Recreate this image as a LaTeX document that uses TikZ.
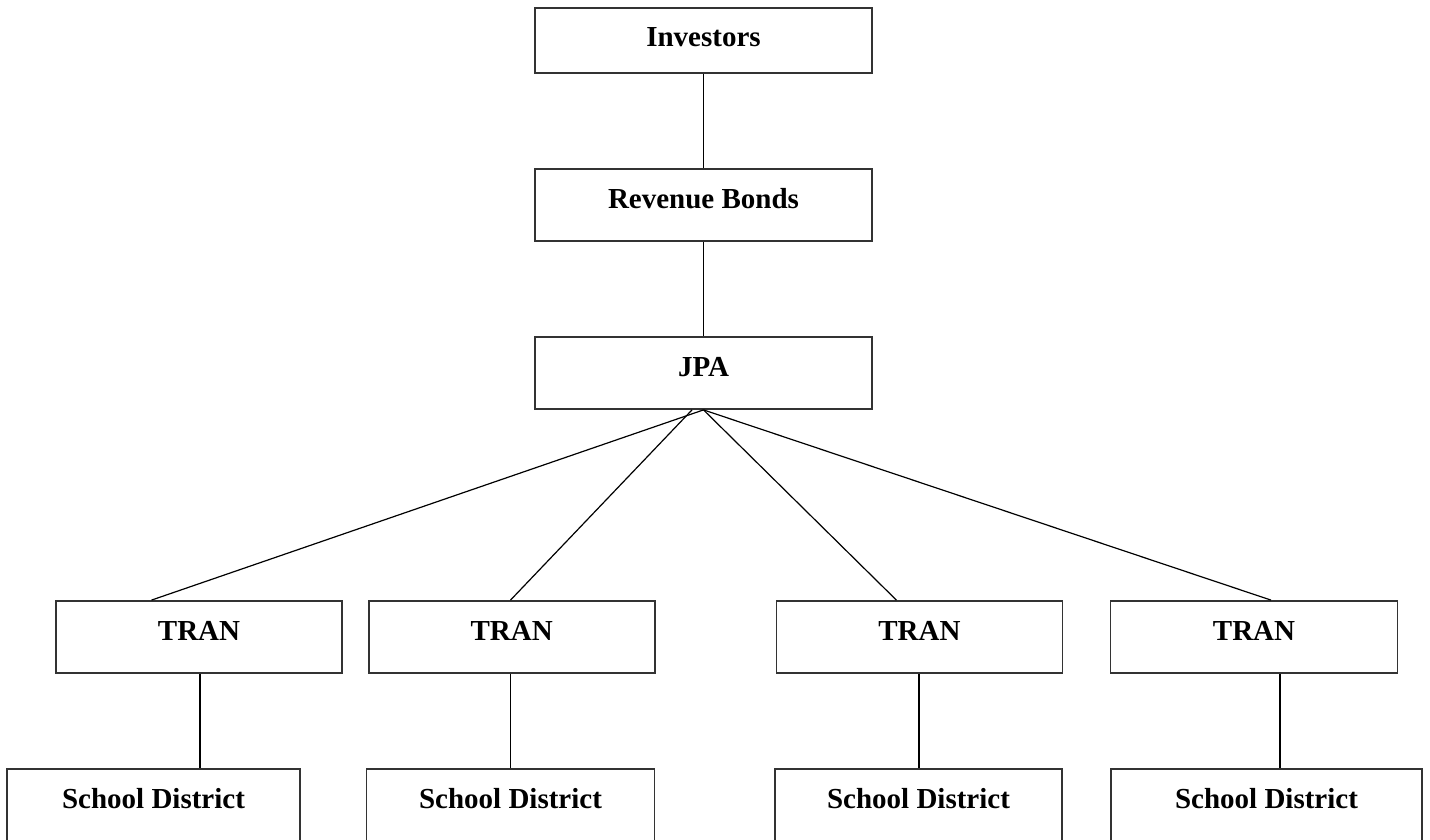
\documentclass[tikz,border=0pt]{standalone}
\usepackage{fontspec}
\setmainfont{Liberation Serif}

\begin{document}
\begin{tikzpicture}
[x=1pt,y=-1pt,
  boxDecorate/.style={shape=rectangle,draw=black!80,line width=1.8pt,inner sep=0pt,
    text height=39pt,text depth=33pt,font=\fontsize{29pt}{34pt}\selectfont\bfseries},%
  lineDecorate/.style={-,line width=1.2pt}]
\useasboundingbox (0,0) rectangle (1430,839);
%% boxes
\node (inv) at (703.5,40.2) [boxDecorate,minimum width=337pt,text height=38.5pt,text depth=26.5pt] {Investors};
\foreach \nodename/\x/\y/\w/\txt in {rev/703.5/205/337/Revenue Bonds, jpa/703.5/373/337/JPA,
  tran1/199/637/286/TRAN, tran2/511.7/637/286/TRAN, tran3/919.4/637/286/TRAN, tran4/1254/637/287/TRAN,
  sd1/153.5/805/293/School District, sd2/510.5/805/288/School District,
  sd3/918.5/805/287/School District, sd4/1266.5/805/311/School District} {
  \node (\nodename) at (\x,\y) [boxDecorate,minimum width=\w pt] {\txt};
}
%% lines
\path
(inv) edge[lineDecorate] (rev)
(rev) edge[lineDecorate] (jpa)
\foreach \tnode/\jshift/\tshift in {tran1/0/-47.5, tran2/-11.5/-1.2, tran3/0/-23, tran4/0/17} {
  ([xshift=\jshift pt]jpa.south) edge[lineDecorate] ([xshift=\tshift pt]\tnode.north)
}
\foreach \tnode/\snode/\vshift in {tran1/sd1/1, tran2/sd2/-1.2, tran3/sd3/-0.4, tran4/sd4/26} {
  ([xshift=\vshift pt]\tnode.south) edge[lineDecorate] ([xshift=\vshift pt]\tnode.south |- \snode.north)
};
\end{tikzpicture}
\end{document}
